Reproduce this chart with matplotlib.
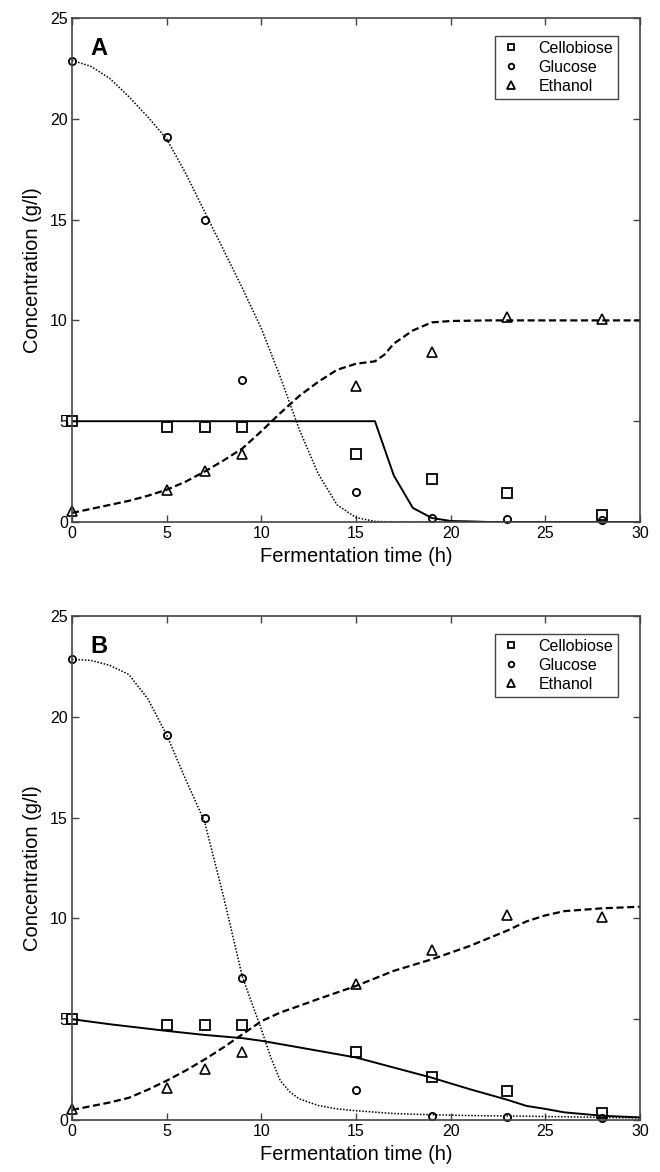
import matplotlib
matplotlib.use("Agg")
import matplotlib.pyplot as plt
from matplotlib.lines import Line2D

plt.rcParams['font.family'] = ['Liberation Sans', 'DejaVu Sans']

# Measured data (same in both panels)
t_data = [0, 5, 7, 9, 15, 19, 23, 28]
cellobiose = [5.0, 4.73, 4.73, 4.73, 3.39, 2.15, 1.43, 0.33]
glucose = [22.85, 19.1, 15.0, 7.05, 1.48, 0.19, 0.16, 0.12]
ethanol = [0.54, 1.58, 2.55, 3.39, 6.75, 8.45, 10.19, 10.06]

# Panel A model curves
tA_cel = [0, 16, 17, 18, 19, 20, 21, 22, 30]
A_cel = [5.0, 5.0, 2.3, 0.7, 0.2, 0.05, 0.03, 0.0, 0.0]
tA_glu = [0, 1, 2, 3, 4, 5, 6, 7, 8, 9, 10, 11, 12, 13, 14, 15, 16, 17, 30]
A_glu = [22.9, 22.6, 22.0, 21.1, 20.1, 19.0, 17.3, 15.4, 13.5, 11.6, 9.6, 7.2,
         4.6, 2.4, 0.85, 0.22, 0.03, 0.0, 0.0]
tA_eth = [0, 1, 2, 3, 4, 5, 6, 7, 8, 9, 10, 11, 12, 13, 14, 15, 16, 16.5, 17, 18, 19, 20, 22, 30]
A_eth = [0.45, 0.65, 0.85, 1.05, 1.3, 1.6, 2.0, 2.5, 3.05, 3.65, 4.5, 5.4, 6.25,
         6.95, 7.55, 7.85, 7.97, 8.3, 8.85, 9.5, 9.9, 9.97, 10.0, 10.0]

# Panel B model curves
tB_cel = [0, 2, 5, 7, 9, 10, 12, 15, 17, 19, 21, 23, 24, 25, 26, 28, 30]
B_cel = [5.0, 4.75, 4.42, 4.22, 4.06, 3.93, 3.6, 3.1, 2.6, 2.1, 1.53, 1.0, 0.7,
         0.55, 0.38, 0.21, 0.13]
tB_glu = [0, 1, 2, 3, 4, 5, 6, 7, 8, 9, 10, 10.5, 11, 11.5, 12, 13, 14, 15, 17,
          19, 21, 23, 26, 28, 30]
B_glu = [22.85, 22.8, 22.55, 22.1, 20.9, 19.1, 16.9, 14.8, 11.1, 7.1, 4.5, 3.1,
         1.95, 1.4, 1.05, 0.72, 0.55, 0.46, 0.32, 0.26, 0.22, 0.2, 0.16, 0.13, 0.1]
tB_eth = [0, 2, 3, 4, 5, 6, 7, 8, 9, 10, 11, 12, 13, 15, 17, 19, 21, 23, 24, 25,
          26, 28, 30]
B_eth = [0.5, 0.87, 1.1, 1.5, 1.95, 2.45, 3.0, 3.6, 4.25, 4.9, 5.33, 5.66, 6.0,
         6.65, 7.4, 7.97, 8.63, 9.4, 9.85, 10.15, 10.36, 10.5, 10.58]

x_ticks = [0, 5, 10, 15, 20, 25, 30]
y_ticks = [0, 5, 10, 15, 20, 25]
labels = ['Cellobiose', 'Glucose', 'Ethanol']

W, H = 660, 1172
fig = plt.figure(figsize=(W / 100, H / 100), dpi=100)

def make_axes(top_px):
    left, right, h = 72, 640, 504
    return fig.add_axes([left / W, 1 - (top_px + h) / H, (right - left) / W, h / H])

axA = make_axes(18)
axB = make_axes(616)

spine_col = '#444444'
tick_font = ['Liberation Sans Narrow', 'Liberation Sans', 'DejaVu Sans']

def style(ax, letter, curves):
    (tc, c), (tg, g), (te, e) = curves
    ax.plot(tc, c, color='black', lw=1.4, ls='-')
    ax.plot(tg, g, color='black', lw=1.1, ls=(0, (1, 1.1)))
    ax.plot(te, e, color='black', lw=1.6, ls=(0, (3.2, 1.6)))
    ax.plot(t_data, cellobiose, ls='none', marker='s', ms=6.5, mfc='none',
            mec='black', mew=1.3, clip_on=False)
    ax.plot(t_data, glucose, ls='none', marker='o', ms=5.2, mfc='none',
            mec='black', mew=1.3, clip_on=False)
    ax.plot(t_data, ethanol, ls='none', marker='^', ms=7, mfc='none',
            mec='black', mew=1.2, clip_on=False)
    ax.set_xlim(0, 30)
    ax.set_ylim(0, 25)
    ax.set_xticks(x_ticks)
    ax.set_yticks(y_ticks)
    ax.tick_params(direction='in', length=5, width=1, top=True, right=True,
                   color=spine_col, labelsize=11.5, pad=3)
    for lab in ax.get_xticklabels() + ax.get_yticklabels():
        lab.set_family(tick_font)
    for s in ax.spines.values():
        s.set_color(spine_col)
        s.set_linewidth(1.2)
    ax.set_xlabel('Fermentation time (h)', fontsize=14.5, labelpad=4)
    ax.set_ylabel('Concentration (g/l)', fontsize=14.5, labelpad=6)
    ax.text(0.032, 0.962, letter, transform=ax.transAxes, fontsize=17,
            fontweight='bold', va='top', ha='left')
    handles = [
        Line2D([], [], ls='none', marker='s', ms=5, mfc='none', mec='black', mew=1.3),
        Line2D([], [], ls='none', marker='o', ms=4, mfc='none', mec='black', mew=1.3),
        Line2D([], [], ls='none', marker='^', ms=5.5, mfc='none', mec='black', mew=1.3),
    ]
    leg = ax.legend(handles, labels, loc='upper right',
                    bbox_to_anchor=(0.961, 0.964), fontsize=11.5, frameon=True,
                    fancybox=False, edgecolor=spine_col, framealpha=1,
                    handlelength=1.4, handletextpad=1.0, borderpad=0.3,
                    labelspacing=0.25, borderaxespad=0)
    leg.get_frame().set_linewidth(1.0)

style(axA, 'A', [(tA_cel, A_cel), (tA_glu, A_glu), (tA_eth, A_eth)])
style(axB, 'B', [(tB_cel, B_cel), (tB_glu, B_glu), (tB_eth, B_eth)])

fig.savefig('out.png', dpi=100)
